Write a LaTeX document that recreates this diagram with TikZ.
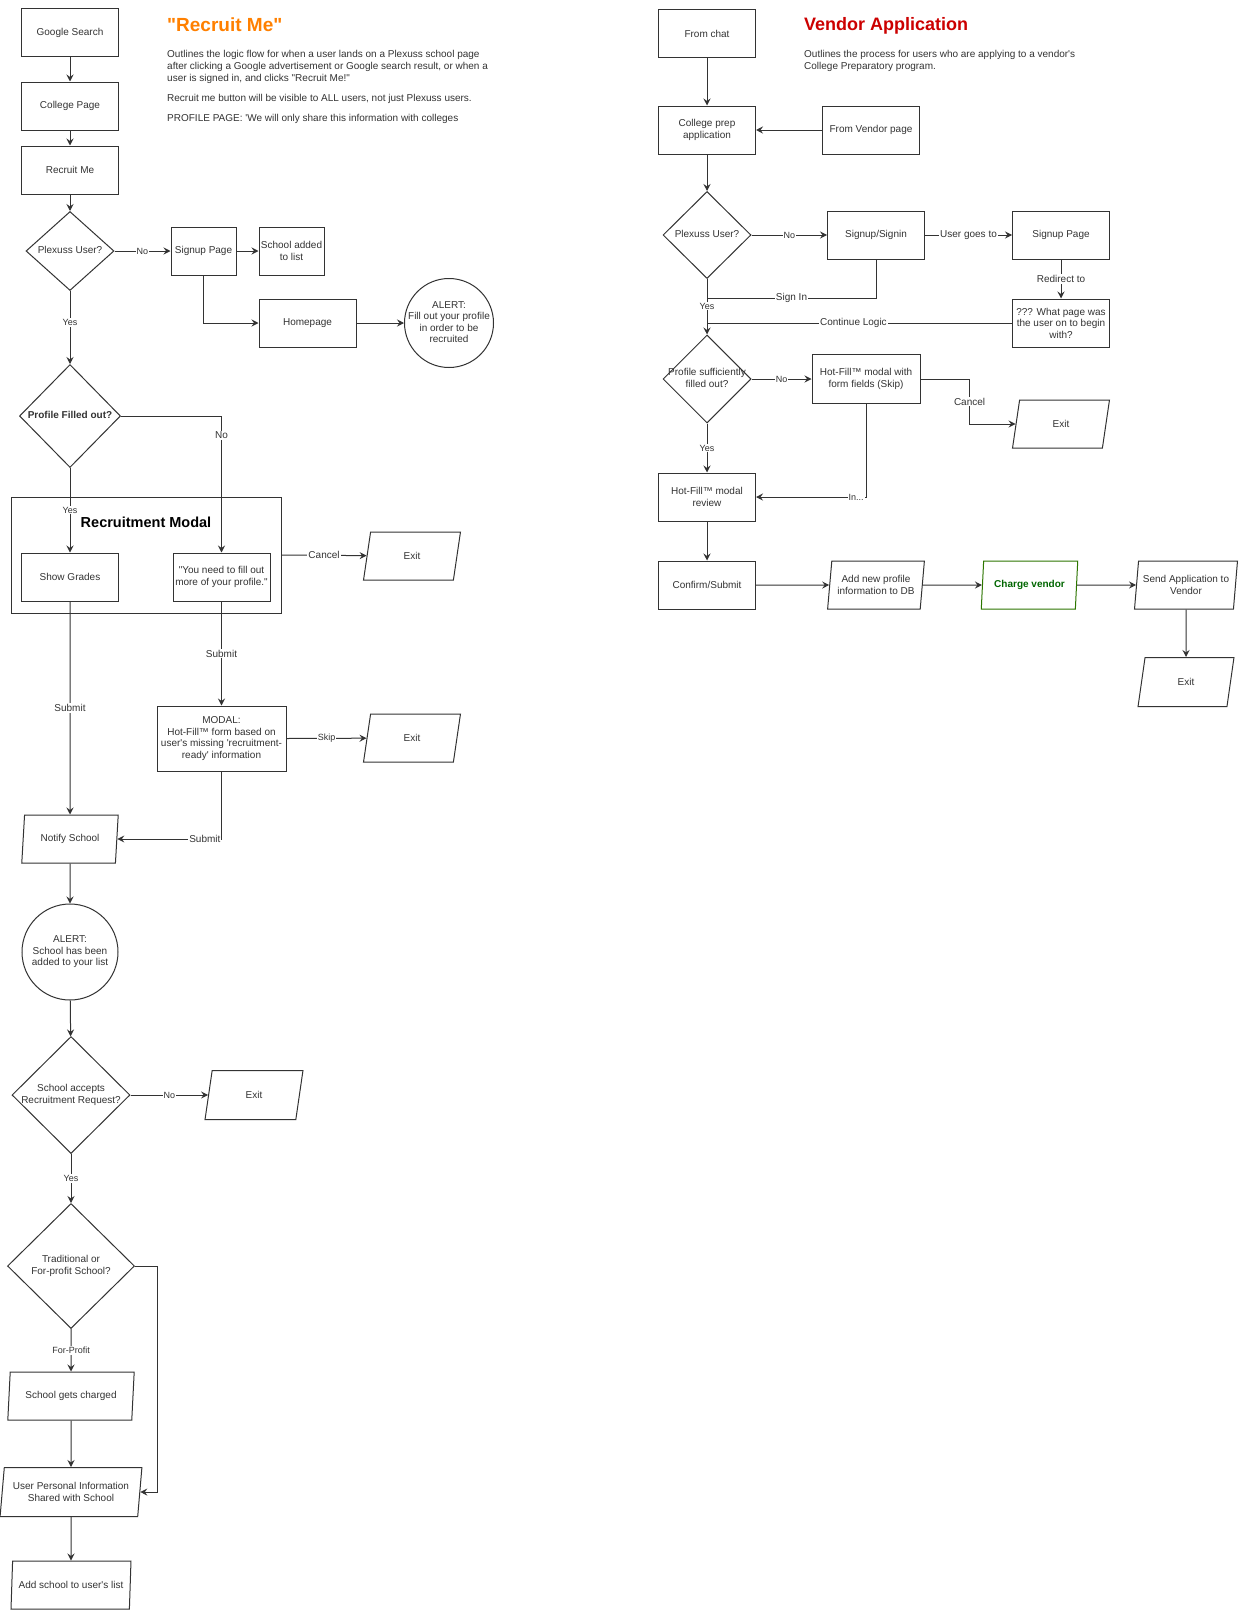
\documentclass[tikz,border=0pt]{standalone}
\usepackage{fontspec}
\setmainfont{Liberation Sans}[Ligatures=TeXOff]
\usepackage{xcolor}
\usepackage{tikz}
\usetikzlibrary{arrows.meta,shapes.geometric,calc}
\definecolor{InkGray}{HTML}{333333}
\definecolor{TitleOrange}{HTML}{FF8000}
\definecolor{TitleRed}{HTML}{CC0000}
\definecolor{ChargeGreen}{HTML}{2D7600}
\definecolor{ChargeText}{HTML}{006600}
% text that does not widen its shape
\newcommand{\dtext}[1]{\makebox[0pt]{\begin{tabular}{@{}c@{}}#1\end{tabular}}}

\begin{document}
\begin{tikzpicture}[
    x=1pt, y=-1pt,
    font=\fontsize{10}{11.5}\selectfont, text=InkGray,
    box/.style={draw=InkGray, line width=1pt, rectangle, align=center, inner sep=0pt, minimum width=97pt, minimum height=48pt},
    dec/.style={draw=InkGray, line width=1pt, diamond, inner sep=0pt},
    io/.style={draw=InkGray, line width=1pt, trapezium, trapezium left angle=79, trapezium right angle=101, trapezium stretches=true, align=center, inner sep=0pt, minimum width=97pt, minimum height=48pt},
    alert/.style={draw=InkGray, line width=1pt, circle, inner sep=0pt},
    txt/.style={anchor=west, align=left, inner sep=0pt},
    arr/.style={-{Stealth[length=7pt, width=7pt, inset=2.5pt]}, line width=1pt, draw=InkGray},
    line/.style={line width=1pt, draw=InkGray},
    lbl/.style={fill=white, inner sep=1pt, font=\fontsize{10}{12}\selectfont},
    lblsm/.style={fill=white, inner sep=1pt, font=\fontsize{9}{11}\selectfont}
]
\useasboundingbox[fill=white] (0,0) rectangle (1240,1611);

% ---- Recruit Me ----
\node[txt, font=\bfseries\fontsize{19}{22}\selectfont, text=TitleOrange] (rtitle) at (167,25) {"Recruit Me"};
\node[txt, font=\fontsize{10}{11.8}\selectfont] (rdesc) at (167,67.2) {Outlines the logic flow for when a user lands on a Plexuss school page\\after clicking a Google advertisement or Google search result, or when a\\user is signed in, and clicks "Recruit Me!"};
\node[txt] (rnote) at (167,98.6) {Recruit me button will be visible to ALL users, not just Plexuss users.};
\node[txt] (rprofile) at (167,119) {PROFILE PAGE: 'We will only share this information with colleges};

\node[box] (gsearch) at (70,33) {Google Search};
\node[box] (cpage) at (70,106) {College Page};
\node[box] (recruit) at (70,170) {Recruit Me};
\node[dec, minimum width=88pt, minimum height=79pt] (plex1) at (70,251) {\dtext{Plexuss User?}};
\node[box, minimum width=65pt] (signup) at (203.5,251) {Signup Page};
\node[box, minimum width=65pt] (schooladd) at (291.5,251) {School added\\to list};
\node[box] (homepage) at (307.5,323) {Homepage};
\node[alert, minimum size=89pt] (alert1) at (449,323) {\dtext{ALERT:\\Fill out your profile\\in order to be\\recruited}};
\node[dec, minimum width=101pt, minimum height=103pt] (prof1) at (70,416) {\dtext{\bfseries Profile Filled out?}};

\node[draw=InkGray, line width=1pt, minimum width=270pt, minimum height=116pt] (modalbox) at (146,555) {};
\node[font=\bfseries\fontsize{14.5}{17}\selectfont, text=black] (modaltitle) at (146,522) {Recruitment Modal};
\node[box] (grades) at (70,577) {Show Grades};
\node[box] (youneed) at (221.5,577) {"You need to fill out\\more of your profile."};
\node[io] (exit1) at (412,556) {Exit};
\node[box, minimum width=129pt, minimum height=65pt] (modal) at (221.5,738.5) {MODAL:\\Hot-Fill™ form based on\\user's missing 'recruitment-\\ready' information};
\node[io] (exit2) at (412,738) {Exit};
\node[io] (notify) at (70,839) {Notify School};
\node[alert, minimum size=96pt] (alert2) at (70,952) {\dtext{ALERT:\\School has been\\added to your list}};
\node[dec, minimum width=118pt, minimum height=117pt] (accept) at (71,1095) {\dtext{School accepts\\Recruitment Request?}};
\node[io, minimum width=98pt, minimum height=49pt] (exit3) at (254,1095) {Exit};
\node[dec, minimum width=127pt, minimum height=125pt] (trad) at (71,1266) {\dtext{Traditional or\\For-profit School?}};
\node[io, minimum width=127pt] (charged) at (71,1396) {School gets charged};
\node[io, minimum width=142pt, minimum height=49pt] (userinfo) at (71,1492) {User Personal Information\\Shared with School};
\node[io, minimum width=120pt] (addschool) at (71,1585) {Add school to user's list};

\foreach \a/\b in {gsearch/cpage, cpage/recruit, recruit/plex1, signup/schooladd, homepage/alert1, notify/alert2, alert2/accept, charged/userinfo, userinfo/addschool}{\draw[arr] (\a) -- (\b);}
\draw[arr] (plex1) -- node[lblsm]{No} (signup);
\draw[arr] (signup.south) |- (homepage.west);
\draw[arr] (plex1.south) -- node[lblsm, pos=0.43]{Yes} (prof1.north);
\draw[arr] (prof1.east) -| node[lbl, pos=0.57]{No} (youneed.north);
\draw[arr] (prof1.south) -- node[lblsm]{Yes} (grades.north);
\draw[arr] (modalbox.east) -- node[lbl]{Cancel} (exit1);
\draw[arr] (youneed.south) -- node[lbl]{Submit} (modal.north);
\draw[arr] (modal.east) -- node[lblsm]{Skip} (exit2);
\draw[arr] (grades.south) -- node[lbl]{Submit} (notify.north);
\draw[arr] (modal.south) |- node[lbl, pos=0.58]{Submit} (notify.east);
\draw[arr] (accept) -- node[lblsm]{No} (exit3);
\draw[arr] (accept.south) -- node[lblsm]{Yes} (trad.north);
\draw[arr] (trad.south) -- node[lblsm]{For-Profit} (charged.north);
\draw[arr] (trad.east) -- ++(22,0) |- (userinfo.east);

% ---- Vendor Application ----
\node[txt, font=\bfseries\fontsize{18}{21}\selectfont, text=TitleRed] (vtitle) at (804,26) {Vendor Application};
\node[txt, font=\fontsize{10}{11.8}\selectfont] (vdesc) at (804,61) {Outlines the process for users who are applying to a vendor's\\College Preparatory program.};

\node[box] (fromchat) at (707,34) {From chat};
\node[box] (prepapp) at (707,130) {College prep\\application};
\node[box] (fromvendor) at (871,130) {From Vendor page};
\node[dec, minimum width=88pt, minimum height=87pt] (plex2) at (707,235) {\dtext{Plexuss User?}};
\node[box] (signin) at (876,235) {Signup/Signin};
\node[box] (signuppg) at (1061,235) {Signup Page};
\node[box] (whatpage) at (1061,323) {??? What page was\\the user on to begin\\with?};
\coordinate (signjoin) at (707,298);
\coordinate (logicjoin) at (707,323);
\node[dec, minimum width=88pt, minimum height=88pt] (prof2) at (707,379) {\dtext{Profile sufficiently\\filled out?}};
\node[box, minimum width=108pt, minimum height=49pt] (hotfill) at (866,379) {Hot-Fill™ modal with\\form fields (Skip)};
\node[io] (exit4) at (1061,424) {Exit};
\node[box] (review) at (707,497) {Hot-Fill™ modal\\review};
\node[box] (confirm) at (707,585) {Confirm/Submit};
\node[io] (addprof) at (876,585) {Add new profile\\information to DB};
\node[io, draw=ChargeGreen, text=ChargeText, font=\bfseries\fontsize{10}{11.5}\selectfont] (charge) at (1029.5,585) {Charge vendor};
\node[io, minimum width=104pt] (sendapp) at (1186,585) {Send Application to\\Vendor};
\node[io, minimum width=96pt, minimum height=49pt] (exit5) at (1186,682) {Exit};

\foreach \a/\b in {fromchat/prepapp, fromvendor/prepapp, prepapp/plex2, review/confirm, confirm/addprof, addprof/charge, charge/sendapp, sendapp/exit5}{\draw[arr] (\a) -- (\b);}
\draw[arr] (plex2) -- node[lblsm]{No} (signin);
\draw[arr] (signin) -- node[lbl]{User goes to} (signuppg);
\draw[line] (signin.south) |- node[lbl, pos=0.75]{Sign In} (signjoin);
\draw[arr] (plex2.south) -- node[lblsm, pos=0.49]{Yes} (prof2.north);
\draw[arr] (signuppg) -- node[lbl]{Redirect to} (whatpage);
\draw[line] (whatpage.west) -- node[lbl, pos=0.52]{Continue Logic} (logicjoin);
\draw[arr] (prof2) -- node[lblsm]{No} (hotfill);
\draw[arr] (hotfill.east) -| node[lbl, pos=0.75]{Cancel} ($(exit4.west)+(-46,0)$) -- (exit4.west);
\draw[arr] (prof2.south) -- node[lblsm]{Yes} (review.north);
\draw[arr] (hotfill.south) |- node[lblsm, pos=0.545]{In...} (review.east);
\end{tikzpicture}
\end{document}
